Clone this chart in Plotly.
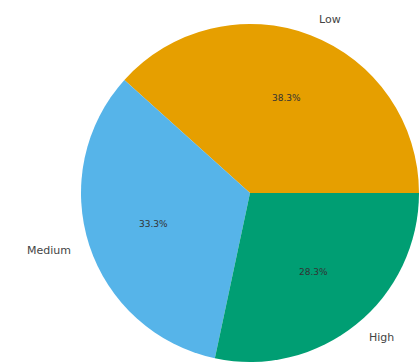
import math
import plotly.graph_objects as go

categories = ["Low", "Medium", "High"]
values = [23, 20, 17]
colors = ["#E69F00", "#56B4E9", "#009E73"]

W, H = 419, 364
# pie geometry in figure pixels
cx, cy, R = 250, 193, 169

total = sum(values)
first_frac = values[0] / total

fig = go.Figure()
fig.add_trace(go.Pie(
    labels=categories, values=values, sort=False,
    direction="counterclockwise", rotation=90 - first_frac * 360,
    marker=dict(colors=colors, line=dict(width=0)),
    textinfo="none", hoverinfo="label+percent", showlegend=False,
    domain=dict(x=[(cx - R) / W, min(1, (cx + R) / W)],
                y=[max(0, (H - (cy + R)) / H), (H - (cy - R)) / H]),
))

start = 0.0
annotations = []
for cat, v in zip(categories, values):
    frac = v / total
    mid = math.radians((start + frac / 2) * 360)
    start += frac
    px = cx + 0.6 * R * math.cos(mid)
    py = cy - 0.6 * R * math.sin(mid)
    annotations.append(dict(x=px / W, y=1 - py / H, xref="paper", yref="paper",
                            xanchor="center", yanchor="middle",
                            text=f"{frac*100:.1f}%", showarrow=False,
                            font=dict(family="DejaVu Sans", size=9, color="#333333")))
    lx = cx + 1.1 * R * math.cos(mid)
    ly = cy - 1.1 * R * math.sin(mid)
    annotations.append(dict(x=lx / W, y=1 - ly / H, xref="paper", yref="paper",
                            text=cat, showarrow=False, yanchor="middle",
                            xanchor="left" if math.cos(mid) >= 0 else "right",
                            font=dict(family="DejaVu Sans", size=11, color="#444444")))

fig.update_layout(width=W, height=H, margin=dict(l=0, r=0, t=0, b=0),
                  paper_bgcolor="white", plot_bgcolor="white",
                  annotations=annotations)
fig.write_html("out.html", config={"displayModeBar": False},
               post_script="document.body.style.margin='0';")
